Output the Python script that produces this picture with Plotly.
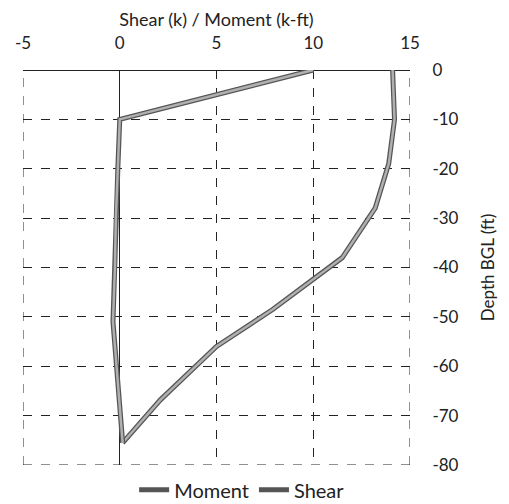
import plotly.graph_objects as go

depth_moment = [0, -10, -19, -28, -38, -48.5, -56, -66.8, -75.5]
moment = [14.1, 14.2, 13.9, 13.2, 11.5, 7.9, 5.0, 2.1, 0.15]

depth_shear = [0, -10, -20, -30, -40, -51, -75.5]
shear = [10.0, 0.0, -0.1, -0.2, -0.25, -0.35, 0.15]

x_ticks = [-5, 0, 5, 10, 15]
y_ticks = [0, -10, -20, -30, -40, -50, -60, -70, -80]

FONT = "Lato, Carlito, 'Open Sans', sans-serif"
GRID = "#222222"

fig = go.Figure()
for name, xs, ys in [("Moment", moment, depth_moment), ("Shear", shear, depth_shear)]:
    fig.add_trace(go.Scatter(x=xs, y=ys, mode="lines", name=name, legendgroup=name,
                             line=dict(color="#555555", width=5), showlegend=True))
    fig.add_trace(go.Scatter(x=xs, y=ys, mode="lines", name=name, legendgroup=name,
                             line=dict(color="#b0b0b0", width=2.5), showlegend=False,
                             hoverinfo="skip"))

# dashed frame on the edges (gridlines at range limits)
for x0, y0, x1, y1 in [(-5, -80, -5, 0), (-5, -80, 15, -80), (15, -80, 15, 0)]:
    fig.add_shape(type="line", xref="x", yref="y", x0=x0, y0=y0, x1=x1, y1=y1,
                  line=dict(color=GRID, width=1, dash="dash"), layer="below")

fig.update_layout(
    width=509, height=504,
    margin=dict(l=15, r=107, t=62, b=47, autoexpand=False),
    paper_bgcolor="white", plot_bgcolor="white",
    font=dict(family=FONT, size=18, color="#222222"),
    showlegend=True,
    legend=dict(orientation="h", xref="container", yref="container",
                x=0.46, xanchor="center", y=0.044, yanchor="middle",
                font=dict(size=20), traceorder="normal"),
)
fig.update_xaxes(
    side="top", range=[-5, 15], tickvals=x_ticks, ticktext=[str(v) for v in x_ticks],
    showgrid=True, gridcolor=GRID, griddash="dash", gridwidth=1,
    zeroline=True, zerolinecolor=GRID, zerolinewidth=1,
    title=dict(text="Shear (k) / Moment (k-ft)", standoff=0, font=dict(size=18)),
    ticks="outside", ticklen=13, tickcolor="rgba(0,0,0,0)", showline=False,
    tickfont=dict(size=17), automargin=False,
)
fig.update_yaxes(
    side="right", range=[-80, 0], tickvals=y_ticks, ticktext=[str(v) for v in y_ticks],
    showgrid=True, gridcolor=GRID, griddash="dash", gridwidth=1,
    zeroline=True, zerolinecolor=GRID, zerolinewidth=1,
    title=dict(text="Depth BGL (ft)", standoff=24, font=dict(size=17)),
    ticks="outside", ticklen=18, tickcolor="rgba(0,0,0,0)", showline=False,
    tickfont=dict(size=17), automargin=False,
)
fig.write_html("out.html")
